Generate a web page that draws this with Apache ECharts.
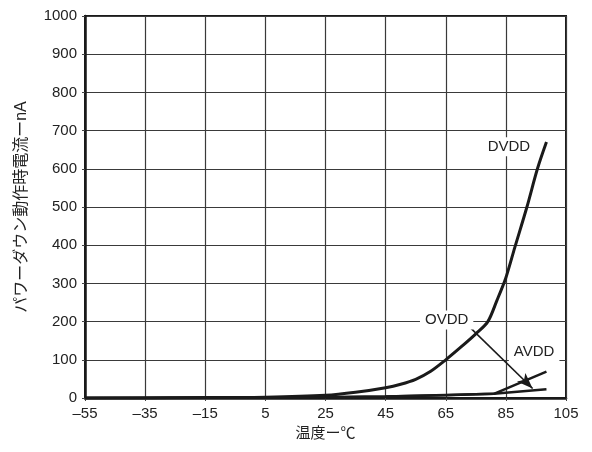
<!DOCTYPE html>
<html>
<head>
<meta charset="utf-8">
<script src="https://cdn.jsdelivr.net/npm/echarts@6/dist/echarts.min.js"></script>
<style>
  html, body { margin: 0; padding: 0; background: #fff; }
  #chart { width: 592px; height: 452px; }
</style>
</head>
<body>
<div id="chart"></div>
<script>
// Power-down supply current vs. temperature for the three supply rails
const xTicks = [-55, -35, -15, 5, 25, 45, 65, 85, 105];
const yTicks = [0, 100, 200, 300, 400, 500, 600, 700, 800, 900, 1000];

const dvddTemp = [-55, -35, -15, 5, 25, 35, 45, 50, 55, 60, 65, 70, 75, 79, 82, 85, 88, 92, 95.5, 98.5];
const dvddCurrent = [0, 0, 1, 2, 7, 15, 27, 36, 49, 70, 100, 133, 168, 200, 255, 315, 395, 500, 600, 670];

const ovddTemp = [-55, 5, 25, 45, 65, 75, 81, 98.5];
const ovddCurrent = [0, 1, 2, 4, 7, 10, 11, 23];

const avddTemp = [-55, 5, 25, 45, 65, 75, 81, 98.5];
const avddCurrent = [0, 1, 2, 4, 8, 10, 11, 69];

const seriesNames = ['DVDD', 'OVDD', 'AVDD'];
const xTitle = '温度ー℃';
const yTitle = 'パワーダウン動作時電流ーnA';

// label anchor points [temperature, nA]
const labelAt = { DVDD: [86, 658], OVDD: [65.3, 204], AVDD: [94.4, 120] };
// pointer from the OVDD label down to its curve
const ovddArrow = [[72.8, 187], [93.9, 25]];

const FONT = "'Liberation Sans', 'Noto Sans CJK JP', Arial, sans-serif";
const INK = '#1a1a1a';

function zip(xs, ys) { return xs.map((x, i) => [x, ys[i]]); }

function tag(name) {
  return {
    coord: labelAt[name],
    symbol: 'rect',
    symbolSize: 0,
    label: {
      show: true,
      position: 'inside',
      formatter: name,
      color: '#222',
      fontFamily: FONT,
      fontSize: 15,
      backgroundColor: '#fff',
      padding: [2, 5, 2, 5]
    }
  };
}

const chart = echarts.init(document.getElementById('chart'), null, { renderer: 'canvas' });

chart.setOption({
  animation: false,
  backgroundColor: '#fff',
  grid: { left: 85, right: 26, top: 16, bottom: 54, show: true, borderColor: INK, borderWidth: 2, backgroundColor: 'transparent' },
  xAxis: {
    type: 'value',
    min: xTicks[0],
    max: xTicks[xTicks.length - 1],
    interval: xTicks[1] - xTicks[0],
    name: xTitle,
    nameLocation: 'middle',
    nameGap: 28,
    nameTextStyle: { fontFamily: FONT, fontSize: 15, color: '#222' },
    axisLine: { show: true, onZero: false, lineStyle: { color: INK, width: 2.5 } },
    axisTick: { show: true, length: 3, lineStyle: { color: '#444' } },
    axisLabel: { fontFamily: FONT, fontSize: 15, color: '#222', margin: 8, formatter: v => String(v).replace('-', '–') },
    splitLine: { show: true, lineStyle: { color: '#3a3a3a', width: 1.2 } }
  },
  yAxis: {
    type: 'value',
    min: yTicks[0],
    max: yTicks[yTicks.length - 1],
    interval: yTicks[1] - yTicks[0],
    name: yTitle,
    nameLocation: 'middle',
    nameGap: 55,
    nameTextStyle: { fontFamily: FONT, fontSize: 16, color: '#222' },
    axisLine: { show: true, onZero: false, lineStyle: { color: INK, width: 2.5 } },
    axisTick: { show: true, length: 3, lineStyle: { color: '#444' } },
    axisLabel: { fontFamily: FONT, fontSize: 15, color: '#222', margin: 8, formatter: v => String(v) },
    splitLine: { show: true, lineStyle: { color: '#3a3a3a', width: 1.2 } }
  },
  series: [
    {
      name: seriesNames[0],
      type: 'line',
      data: zip(dvddTemp, dvddCurrent),
      showSymbol: false,
      smooth: 0.3,
      lineStyle: { color: INK, width: 3 },
      markPoint: { silent: true, data: [tag('DVDD')] }
    },
    {
      name: seriesNames[1],
      type: 'line',
      data: zip(ovddTemp, ovddCurrent),
      showSymbol: false,
      lineStyle: { color: INK, width: 2.5 },
      markPoint: { silent: true, data: [tag('OVDD')] },
      markLine: {
        silent: true,
        symbol: ['none', 'arrow'],
        symbolSize: [9, 16],
        label: { show: false },
        lineStyle: { color: INK, width: 1.6, type: 'solid' },
        data: [[{ coord: ovddArrow[0] }, { coord: ovddArrow[1] }]]
      }
    },
    {
      name: seriesNames[2],
      type: 'line',
      data: zip(avddTemp, avddCurrent),
      showSymbol: false,
      lineStyle: { color: INK, width: 2.5 },
      markPoint: { silent: true, data: [tag('AVDD')] }
    }
  ]
});
</script>
</body>
</html>
